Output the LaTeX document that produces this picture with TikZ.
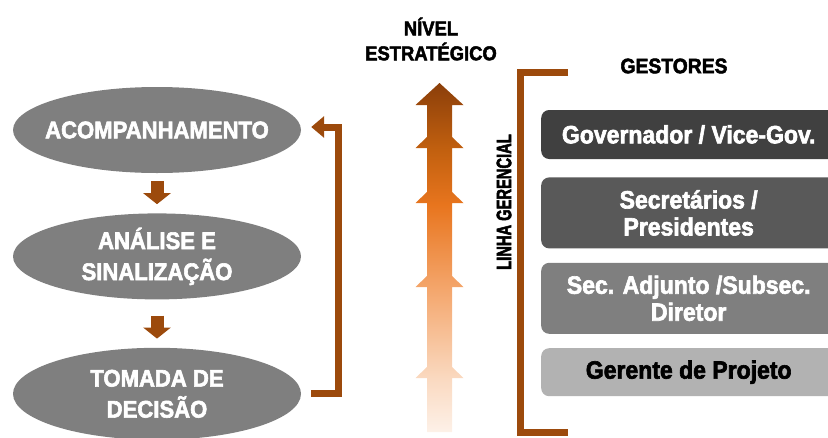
\documentclass[tikz,border=0pt]{standalone}
\usepackage{fontspec}
\setmainfont{Liberation Sans}[FakeStretch=0.92, BoldFeatures={FakeBold=2.5}]
\newfontfamily\narrowfont{Liberation Sans}[FakeStretch=0.7, BoldFeatures={FakeBold=2.5}]
\usepackage{xcolor}
\usepackage{tikz}
\usetikzlibrary{positioning, shapes.geometric, arrows.meta}
\definecolor{brownline}{RGB}{156,74,12}
\definecolor{ellgray}{RGB}{127,127,127}
\definecolor{boxA}{RGB}{64,64,64}
\definecolor{boxB}{RGB}{89,89,89}
\definecolor{boxC}{RGB}{127,127,127}
\definecolor{boxD}{RGB}{178,178,178}
\definecolor{nivA}{RGB}{253,241,232}
\definecolor{nivB}{RGB}{250,217,192}
\definecolor{nivC}{RGB}{244,166,108}
\definecolor{nivD}{RGB}{232,117,30}
\definecolor{nivE}{RGB}{194,96,15}
\definecolor{nivF}{RGB}{139,63,10}
\pgfdeclareverticalshading{nivelshade}{100bp}{color(0bp)=(nivA); color(25bp)=(nivA); color(32.7bp)=(nivB); color(45.5bp)=(nivC); color(57.5bp)=(nivD); color(65.4bp)=(nivE); color(75bp)=(nivF); color(100bp)=(nivF)}
\tikzstyle{desce} = [line width=13pt, brownline, -{Triangle[width=27pt,length=11pt]}]
\tikzstyle{retorno} = [line width=7pt, brownline, -{Triangle[width=21pt,length=13pt]}]

\begin{document}
\begin{tikzpicture}[x=1pt, y=-1pt]
	\tikzstyle{etapa}=[ellipse, fill=ellgray, text=white, font=\bfseries\fontsize{24}{31}\selectfont, minimum width=288pt, minimum height=86pt, inner ysep=0pt, inner xsep=-15pt, align=center]
	\tikzstyle{gestor}=[rectangle, rounded corners=8pt, minimum width=295pt, inner sep=0pt, text=white, font=\bfseries\fontsize{25}{27}\selectfont, align=center]
	\useasboundingbox (0,0) rectangle (828,437);
	% ciclo
	\node[etapa]    (acomp)   at (157,130)          {ACOMPANHAMENTO};
	\node[etapa]    (analise) [below=40pt of acomp]   {ANÁLISE E\\SINALIZAÇÃO};
	\node[etapa, minimum height=92pt]    (tomada)  [below=48pt of analise] {TOMADA DE\\DECISÃO};
	\draw[desce] ([yshift=-8pt]acomp.south) -- ([yshift=9pt]analise.north);
	\draw[desce] ([yshift=-16pt]analise.south) -- ([yshift=9pt]tomada.north);
	\draw[retorno] ([xshift=10pt]tomada.east) -- ++(27,0) |- ([xshift=10pt,yshift=3pt]acomp.east);
	% nivel estrategico
	\node[font=\bfseries\fontsize{20}{25}\selectfont, align=center] (nivel) at (431,39) {NÍVEL\\ESTRATÉGICO};
	\shade[shading=nivelshade] (439.5,83) -- (463.5,105) -- (452,105)
		\foreach \b in {148,203,287,378} { -- (452,\b-11) -- (463.5,\b) -- (452,\b) }
		-- (452,432) -- (427,432)
		\foreach \b in {378,287,203,148} { -- (427,\b) -- (415.5,\b) -- (427,\b-11) }
		-- (427,105) -- (415.5,105) -- cycle;
	% gestores
	\node[rotate=90, font=\narrowfont\bfseries\fontsize{21}{21}\selectfont] (linha) at (504,202) {LINHA GERENCIAL};
	\coordinate (brtop) at (568,72);
	\coordinate (brbot) at (568,432);
	\draw[line width=7pt, brownline] (brtop) -- ++(-48,0) |- (brbot);
	\node[font=\bfseries\fontsize{21}{21}\selectfont] (gestores) at (674,66) {GESTORES};
	\begin{scope}
	\clip (0,0) rectangle (828,437);
	\node[gestor, fill=boxA, minimum height=49pt, anchor=west] (gov) at (541,134.5) {Governador / Vice-Gov.};
	\node[gestor, fill=boxB, minimum height=71pt] (secr) [below=18pt of gov]  {Secretários /\\Presidentes};
	\node[gestor, fill=boxC, minimum height=71pt] (adj)  [below=14pt of secr] {Sec. Adjunto /Subsec.\\Diretor};
	\node[gestor, fill=boxD, minimum height=48pt, text=black] (ger) [below=14pt of adj] {Gerente de Projeto};
	\end{scope}
\end{tikzpicture}
\end{document}
